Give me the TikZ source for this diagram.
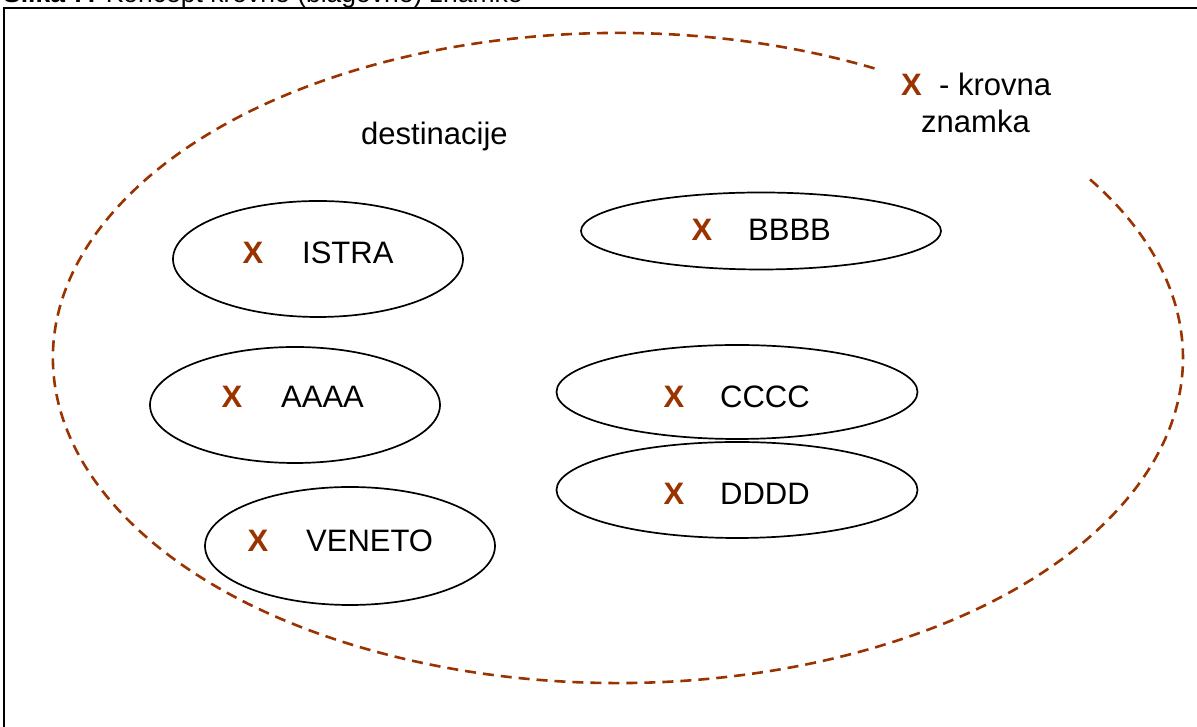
\documentclass[tikz,border=0pt]{standalone}
\usepackage{fontspec}
\setmainfont{Liberation Sans}
\usetikzlibrary{shapes.geometric,calc}
\definecolor{xbrown}{RGB}{153,51,0}
\tikzset{
  dest/.style={ellipse, draw=black, line width=1.7pt, inner sep=0pt},
  xmark/.style={text=xbrown, font=\fontsize{31}{37}\selectfont\bfseries, anchor=base, inner sep=0pt},
  lbl/.style={font=\fontsize{31}{37}\selectfont, anchor=base west, inner sep=0pt},
  umbrella/.style={draw=xbrown, line width=2.6pt, dash pattern=on 11pt off 7pt},
  frame/.style={draw=black, line width=2pt}
}
\begin{document}
\begin{tikzpicture}[x=1pt,y=1pt]
\clip (0,0) rectangle (1197,727);
\fill[white] (0,0) rectangle (1197,727);
% title (clipped at top, as in the reference)
\node[anchor=base west, inner sep=0pt, font=\fontsize{26.5}{30}\selectfont] (title) at (3,724.5) {\textbf{Slika 7:} Koncept krovne (blagovne) znamke};
% frame
\draw[frame] (1220,719) -- (4,719) -- (4,-20);
% umbrella dashed ellipse
\coordinate (c) at (618,369);
\draw[umbrella] ($(c)+(63:565pt and 325pt)$) arc[start angle=63, end angle=393.7, x radius=565pt, y radius=325pt];
% destination ellipses
\node[dest, minimum width=290pt, minimum height=116pt] (istra) at (318,468) {};
\node[dest, minimum width=290pt, minimum height=116pt] (aaaa) at (295,322) {};
\node[dest, minimum width=290pt, minimum height=118pt] (veneto) at (350,181) {};
\node[dest, minimum width=360pt, minimum height=77pt] (bbbb) at (761,496) {};
\node[dest, minimum width=361pt, minimum height=94pt] (cccc) at (737,335) {};
\node[dest, minimum width=361pt, minimum height=96pt] (dddd) at (737,237) {};
% labels
\node[xmark] (xi) at (253,463) {X};
\node[lbl] (ti) at (302,463) {ISTRA};
\node[xmark] (xa) at (232,319) {X};
\node[lbl] (ta) at (281,319) {AAAA};
\node[xmark] (xv) at (258,175) {X};
\node[lbl] (tv) at (306,175) {VENETO};
\node[xmark] (xb) at (702,486) {X};
\node[lbl] (tb) at (748,486) {BBBB};
\node[xmark] (xc) at (674,319) {X};
\node[lbl] (tc) at (720,319) {CCCC};
\node[xmark] (xd) at (674,222) {X};
\node[lbl] (td) at (720,222) {DDDD};
\node[lbl] (dest) at (361,582) {destinacije};
\node[xmark] (xk) at (911.5,631) {X};
\node[lbl] (tk) at (939,631) {- krovna};
\node[lbl] (tz) at (921,594) {znamka};
\end{tikzpicture}
\end{document}
